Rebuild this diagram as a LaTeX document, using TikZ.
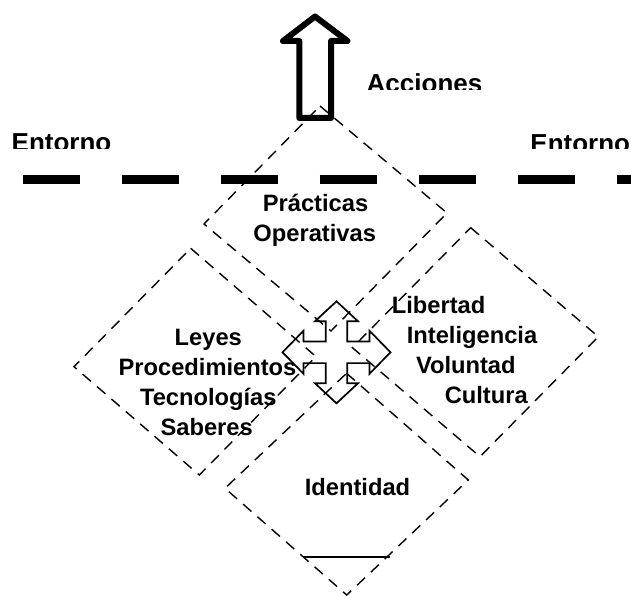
\documentclass[tikz,border=0pt]{standalone}
\usepackage{fontspec}
\setmainfont{Liberation Sans}
\begin{document}
\begin{tikzpicture}[x=1pt,y=-1pt,
  zone/.style={draw=black, line width=1.4pt, dash pattern=on 11pt off 8pt},
  envline/.style={draw=black, line width=9pt, dash pattern=on 57pt off 42pt},
  bigarrow/.style={draw=black, line width=6pt, line join=round},
  crossarrow/.style={draw=black, line width=1.7pt, line join=miter},
  lbl/.style={font=\fontsize{23.7}{28}\selectfont\bfseries, inner sep=0pt, anchor=base},
  lblw/.style={lbl, anchor=base west},
  toplbl/.style={font=\fontsize{26}{30}\selectfont\bfseries, inner sep=0pt, anchor=base west}]
\useasboundingbox (0,0) rectangle (631,596);

% corner points of the four zones
\coordinate (pT) at (320,106);   \coordinate (pR) at (447,213);
\coordinate (pB) at (331,331);   \coordinate (pL) at (204,224);
\coordinate (lT) at (190.7,248.3); \coordinate (lR) at (316,356.6);
\coordinate (lB) at (199.3,475);   \coordinate (lL) at (74,366.7);
\coordinate (rT) at (470.7,227.7); \coordinate (rR) at (598.3,336.7);
\coordinate (rB) at (480,456.7);   \coordinate (rL) at (352.4,347.7);
\coordinate (iT) at (346.6,373.3); \coordinate (iR) at (468.3,480);
\coordinate (iB) at (346.7,595);   \coordinate (iL) at (225,488.3);

% dashed zones
\draw[zone] (pT) -- (pR) -- (pB) -- (pL) -- cycle;
\draw[zone] (lT) -- (lR) -- (lB) -- (lL) -- cycle;
\draw[zone] (rT) -- (rR) -- (rB) -- (rL) -- cycle;
\draw[zone] (iT) -- (iR) -- (iB) -- (iL) -- cycle;

% base line inside the identity zone
\coordinate (baseA) at (303,557);
\coordinate (baseB) at (390,557);
\draw[line width=2.7pt] (baseA) -- (baseB);

% boundary with the environment
\coordinate (envA) at (22.7,179.5);
\coordinate (envB) at (631,179.5);
\draw[envline] (envA) -- (envB);

% outgoing actions arrow
\draw[bigarrow] (315,16.5) -- (347.5,41) -- (331,41) -- (331,118)
  -- (299.3,118) -- (299.3,41) -- (283,41) -- cycle;

% four-way exchange arrow in the middle
\begin{scope}[shift={(336.5,352.3)}]
  \draw[crossarrow]
    (0,-51) -- (21.5,-31) -- (10.8,-31) -- (10.8,-10.8)
    -- (33,-10.8) -- (33,-21.5) -- (54,0) -- (33,21.5) -- (33,10.8)
    -- (10.8,10.8) -- (10.8,31) -- (21.5,31) -- (0,51) -- (-21.5,31)
    -- (-10.8,31) -- (-10.8,10.8) -- (-33,10.8) -- (-33,21.5) -- (-54,0)
    -- (-33,-21.5) -- (-33,-10.8) -- (-10.8,-10.8) -- (-10.8,-31)
    -- (-21.5,-31) -- cycle;
\end{scope}

% labels above the boundary (cut at the bottom)
\begin{scope}
  \clip (360,60) rectangle (520,90);
  \node[toplbl] (acc) at (366.5,92.6) {Acciones};
\end{scope}
\begin{scope}
  \clip (0,120) rectangle (631,149);
  \node[toplbl] (entL) at (11.5,152) {Entorno};
  \node[toplbl] (entR) at (530.2,153) {Entorno};
\end{scope}

% zone labels
\node[lbl] (prac) at (315.5,211.7) {Prácticas};
\node[lbl] (oper) at (314.7,241.7) {Operativas};

\node[lbl] (ley) at (208.3,345) {Leyes};
\node[lbl] (proc) at (207.5,375) {Procedimientos};
\node[lbl] (tec) at (208.3,405) {Tecnologías};
\node[lbl] (sab) at (206.7,435) {Saberes};

\node[lblw] (lib) at (391.6,313.3) {Libertad};
\node[lblw] (intel) at (406.6,343.3) {Inteligencia};
\node[lblw] (vol) at (415.8,373.3) {Voluntad};
\node[lblw] (cul) at (444.6,403.3) {Cultura};

\node[lbl] (iden) at (357.5,495) {Identidad};
\end{tikzpicture}
\end{document}
